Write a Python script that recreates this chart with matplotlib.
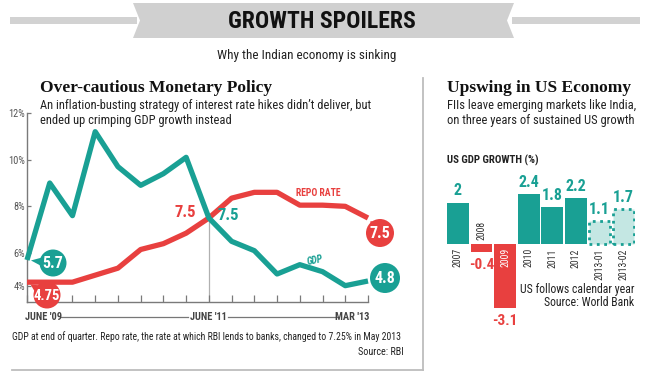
import matplotlib
matplotlib.use("Agg")
import matplotlib.pyplot as plt
from matplotlib import font_manager as fm
from matplotlib.patches import Circle, Polygon, Rectangle
from matplotlib.lines import Line2D
from matplotlib.transforms import IdentityTransform
import numpy as np

# ---------------- data ----------------
quarters = ["Jun '09", "Sep '09", "Dec '09", "Mar '10", "Jun '10", "Sep '10",
            "Dec '10", "Mar '11", "Jun '11", "Sep '11", "Dec '11", "Mar '12",
            "Jun '12", "Sep '12", "Dec '12", "Mar '13"]
gdp = [5.7, 9.0, 7.6, 11.2, 9.7, 8.9, 9.4, 10.1, 7.5, 6.5, 6.1, 5.1, 5.5, 5.2, 4.6, 4.8]
repo = [4.75, 4.75, 4.75, 5.05, 5.35, 6.15, 6.4, 6.85, 7.5, 8.35, 8.6, 8.6, 8.05, 8.05, 8.0, 7.5]
ytick_vals = [4.6, 6, 8, 10, 12]
ytick_labels = ["4%", "6%", "8%", "10%", "12%"]

us_years = ["2007", "2008", "2009", "2010", "2011", "2012", "2013-01", "2013-02"]
us_growth = [2.0, -0.4, -3.1, 2.4, 1.8, 2.2, 1.1, 1.7]
us_labels = ["2", "-0.4", "-3.1", "2.4", "1.8", "2.2", "1.1", "1.7"]
us_estimate = [False, False, False, False, False, False, True, True]

# ---------------- fonts ----------------
def pick(cands, **kw):
    for n in cands:
        try:
            fm.findfont(fm.FontProperties(family=n, **kw), fallback_to_default=False)
            return n
        except Exception:
            pass
    return "DejaVu Sans"

COND = pick(["Liberation Sans Narrow", "Roboto Condensed", "Open Sans Condensed",
             "DejaVu Sans Condensed", "Liberation Sans"])
SERIF = pick(["Liberation Serif", "DejaVu Serif"])

TEAL = "#19a094"
RED = "#e8403f"
LIGHT = "#c4e7e3"
DARK = "#222222"

W, H = 650, 372
fig = plt.figure(figsize=(W / 100, H / 100), dpi=100)
fig.patch.set_facecolor("white")


def fx(x):
    return x / W


def fy(y):
    return 1 - y / H


def T(x, y, s, size, **kw):
    kw.setdefault("family", COND)
    kw.setdefault("color", DARK)
    kw.setdefault("va", "center")
    return fig.text(fx(x), fy(y), s, fontsize=size, **kw)


def hline(x0, x1, y, color, lw):
    fig.add_artist(Line2D([fx(x0), fx(x1)], [fy(y), fy(y)], color=color, lw=lw,
                          transform=fig.transFigure))


# ---------------- header ----------------
fig.add_artist(Rectangle((fx(10), fy(24)), fx(137) - fx(10), 7 / H, color="#d2d2d2",
                         transform=fig.transFigure, lw=0))
fig.add_artist(Rectangle((fx(512), fy(24)), fx(640) - fx(512), 7 / H, color="#d2d2d2",
                         transform=fig.transFigure, lw=0))
banner = [(133, 3), (514, 3), (507, 20.5), (514, 38), (133, 38), (140, 20.5)]
fig.add_artist(Polygon([(fx(a), fy(b)) for a, b in banner], closed=True,
                       color="#d0d0d0", transform=fig.transFigure, lw=0))
T(322, 21, "GROWTH SPOILERS", 17, ha="center", fontweight="bold", color="#111111")
T(307, 55, "Why the Indian economy is sinking", 9.5, ha="center")

# ---------------- left panel texts ----------------
T(40, 88, "Over-cautious Monetary Policy", 12.5, family=SERIF, fontweight="bold", color="#111111")
T(40, 105, "An inflation-busting strategy of interest rate hikes didn\u2019t deliver, but", 9)
T(40, 121, "ended up crimping GDP growth instead", 9)

# ---------------- line chart ----------------
ax = fig.add_axes([fx(27), fy(302), 341 / W, 189 / H])
ax.set_xlim(0, len(quarters) - 1)
ax.set_ylim(3.9, 12)
xs = np.arange(len(quarters))
ax.plot([8, 8], [3.9, 7.5], color="#b0b0b0", lw=0.9, zorder=1)
ax.plot(xs, repo, color=RED, lw=3.8, zorder=3, clip_on=False, solid_capstyle="butt")
ax.plot(xs, gdp, color=TEAL, lw=3.8, zorder=4, clip_on=False, solid_capstyle="butt")
for s in ["top", "right"]:
    ax.spines[s].set_visible(False)
for s in ["left", "bottom"]:
    ax.spines[s].set_color("#7a7a7a")
    ax.spines[s].set_linewidth(1.0)
ax.set_xticks(xs)
ax.set_xticklabels([])
ax.tick_params(axis="x", direction="in", length=5, color="#7a7a7a", width=0.9)
ax.set_yticks(ytick_vals)
ax.set_yticklabels(ytick_labels, family=COND, fontsize=7.5, color="#555555")
ax.tick_params(axis="y", direction="in", length=3, color="#7a7a7a", width=0.9, pad=1.5)
ax.patch.set_alpha(0)


def badge(cx, cy, r, txt, color, pt, fs):
    px, py = cx, H - cy
    tx, ty = ax.transData.transform(pt)
    dx, dy = tx - px, ty - py
    d = np.hypot(dx, dy)
    ux, uy = dx / d, dy / d
    nx, ny = -uy, ux
    bx0, by0 = px + ux * (r - 4), py + uy * (r - 4)
    tipx, tipy = tx - ux * 4, ty - uy * 4
    w = 5
    fig.add_artist(Polygon([(bx0 + nx * w, by0 + ny * w), (tipx, tipy),
                            (bx0 - nx * w, by0 - ny * w)], closed=True,
                           transform=IdentityTransform(), color=color, lw=0, zorder=5))
    fig.add_artist(Circle((px, py), r, transform=IdentityTransform(), color=color,
                          lw=0, zorder=6))
    T(cx, cy + 0.5, txt, fs, ha="center", color="white", fontweight="bold", zorder=7)


badge(53, 263, 13.5, "5.7", TEAL, (0, gdp[0]), 11.5)
badge(47, 295, 13.5, "4.75", RED, (0, repo[0]), 10.5)
badge(385, 278, 15, "4.8", TEAL, (15, gdp[-1]), 11.5)
badge(380, 233, 14, "7.5", RED, (15, repo[-1]), 11.5)

T(185, 212, "7.5", 12, ha="center", color=RED, fontweight="bold")
T(228, 215, "7.5", 12, ha="center", color=TEAL, fontweight="bold")
T(318, 193, "REPO RATE", 7, ha="center", color=RED, fontweight="bold")
T(315, 260, "GDP", 7, ha="center", color=TEAL, fontweight="bold", style="italic", rotation=12)

T(25, 317, "JUNE '09", 7.5, ha="left", fontweight="bold", color="#444444")
T(208, 317, "JUNE '11", 7.5, ha="center", fontweight="bold", color="#444444")
T(369, 317, "MAR '13", 7.5, ha="right", fontweight="bold", color="#444444")
hline(60, 188, 317, "#777777", 0.9)
hline(228, 338, 317, "#777777", 0.9)

T(12, 337, "GDP at end of quarter. Repo rate, the rate at which RBI lends to banks, changed to 7.25% in May 2013", 7.0)
T(404, 352, "Source: RBI", 7.3, ha="right")

# dividers
fig.add_artist(Line2D([fx(423), fx(423)], [fy(78), fy(370)], color="#bdbdbd", lw=1.3,
                      transform=fig.transFigure))
hline(12, 423, 370, "#bdbdbd", 1.3)

# ---------------- right panel ----------------
T(447, 88, "Upswing in US Economy", 12.5, family=SERIF, fontweight="bold", color="#111111")
T(447, 105, "FIIs leave emerging markets like India,", 9)
T(447, 121, "on three years of sustained US growth", 9)
T(447, 160, "US GDP GROWTH (%)", 7.8, fontweight="bold")

bx = fig.add_axes([fx(446), fy(316.45), 189 / W, (316.45 - 188.1) / H])
bx.set_xlim(-0.5, len(us_years) - 0.5)
bx.set_ylim(-3.5, 2.7)
bx.axis("off")
for i, (yr, v, lab, est) in enumerate(zip(us_years, us_growth, us_labels, us_estimate)):
    if est:
        bx.bar(i, v, width=0.9, color=LIGHT, edgecolor=TEAL, linestyle=":", linewidth=2.0)
        lc = TEAL
    else:
        c = TEAL if v >= 0 else RED
        bx.bar(i, v, width=0.92, color=c, linewidth=0)
        lc = c
    if v >= 0:
        bx.annotate(lab, (i, v), xytext=(0, 3), textcoords="offset points", ha="center",
                    va="bottom", color=lc, fontsize=11.5, fontweight="bold", family=COND)
    else:
        bx.annotate(lab, (i, v), xytext=(0, -4), textcoords="offset points", ha="center",
                    va="top", color=lc, fontsize=11, fontweight="bold", family=COND)
    if v >= 0 or yr == "2009":
        col = "white" if yr == "2009" else "#333333"
        bx.annotate(yr, (i, 0), xytext=(0, -3), textcoords="offset points", ha="center",
                    va="top", rotation=90, color=col, fontsize=7, family=COND)
    else:
        bx.annotate(yr, (i, 0), xytext=(0, 3), textcoords="offset points", ha="center",
                    va="bottom", rotation=90, color="#333333", fontsize=7, family=COND)

T(634, 290, "US follows calendar year", 8.5, ha="right")
T(634, 302, "Source: World Bank", 8.5, ha="right")

fig.savefig("out.png", dpi=100)
